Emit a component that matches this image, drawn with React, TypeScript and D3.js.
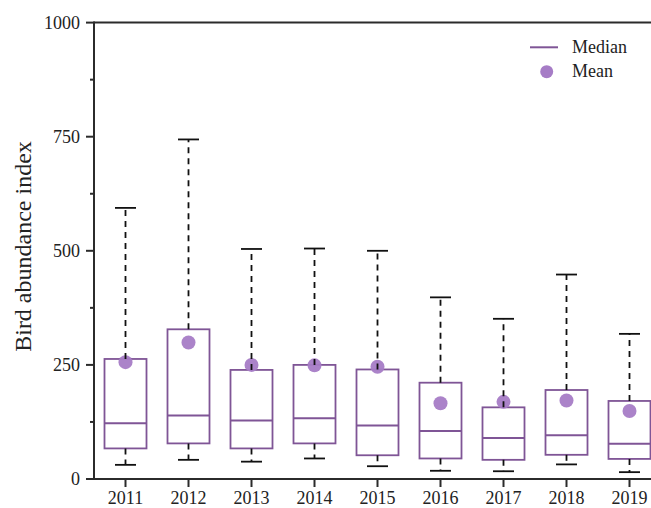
import React from "react";
import * as d3 from "d3";

const years = ["2011", "2012", "2013", "2014", "2015", "2016", "2017", "2018", "2019"];
const lowerCap = [31, 42, 38, 45, 28, 18, 17, 32, 15];
const q1 = [67, 78, 67, 78, 52, 45, 42, 53, 44];
const median = [122, 139, 128, 133, 117, 105, 90, 96, 77];
const q3 = [263, 328, 239, 250, 240, 211, 157, 195, 171];
const upperCap = [594, 744, 504, 505, 500, 398, 351, 448, 318];
const mean = [256, 299, 250, 249, 246, 166, 169, 172, 149];
const yTicks = [0, 250, 500, 750, 1000];
const yMinorTicks = [125, 375, 625, 875];

const W = 651;
const H = 508;
const left = 94;
const top = 22.6;
const bottom = 479;
const step = 63;

export default function App() {
  const y = d3.scaleLinear().domain([0, 1000]).range([bottom, top]);
  const x = d3
    .scaleBand()
    .domain(years)
    .range([left, left + step * years.length])
    .paddingInner(0)
    .paddingOuter(0);
  const cx = (yr: string) => (x(yr) as number) + x.bandwidth() / 2;
  const boxW = 42;
  const capW = 21;
  const purple = "#7f5596";
  const meanFill = "#a67cc6";
  const axisColor = "#2b2b2b";
  const font = "'Liberation Serif', 'Times New Roman', serif";

  return (
    <svg width={W} height={H} style={{ position: "absolute", left: 0, top: 0, background: "#fff" }}>
      <rect x={0} y={0} width={W} height={H} fill="#fff" />
      {/* boxes */}
      {years.map((yr, i) => (
        <g key={"b" + yr}>
          <rect
            x={cx(yr) - boxW / 2}
            y={y(q3[i])}
            width={boxW}
            height={y(q1[i]) - y(q3[i])}
            fill="none"
            stroke={purple}
            strokeWidth={1.8}
          />
          <line
            x1={cx(yr) - boxW / 2}
            x2={cx(yr) + boxW / 2}
            y1={y(median[i])}
            y2={y(median[i])}
            stroke={purple}
            strokeWidth={2}
          />
          <circle cx={cx(yr)} cy={y(mean[i])} r={7} fill={meanFill} opacity={0.95} />
        </g>
      ))}
      {/* whiskers */}
      {years.map((yr, i) => (
        <g key={"w" + yr} stroke="#111" strokeWidth={1.8}>
          <line x1={cx(yr)} x2={cx(yr)} y1={y(q3[i])} y2={y(upperCap[i])} strokeDasharray="6,5" />
          <line x1={cx(yr)} x2={cx(yr)} y1={y(q1[i])} y2={y(lowerCap[i])} strokeDasharray="6,5" />
          <line x1={cx(yr) - capW / 2} x2={cx(yr) + capW / 2} y1={y(upperCap[i])} y2={y(upperCap[i])} />
          <line x1={cx(yr) - capW / 2} x2={cx(yr) + capW / 2} y1={y(lowerCap[i])} y2={y(lowerCap[i])} />
        </g>
      ))}
      {/* axes */}
      <line x1={left} x2={W + 20} y1={bottom} y2={bottom} stroke={axisColor} strokeWidth={2} />
      <line x1={left} x2={W + 20} y1={top} y2={top} stroke={axisColor} strokeWidth={2} />
      <line x1={left} x2={left} y1={top - 1} y2={bottom + 1} stroke={axisColor} strokeWidth={2} />
      {yTicks.map((t) => (
        <g key={"yt" + t}>
          <line x1={left - 8} x2={left} y1={y(t)} y2={y(t)} stroke={axisColor} strokeWidth={2} />
          <text
            x={left - 14}
            y={y(t)}
            dy="0.35em"
            textAnchor="end"
            fontFamily={font}
            fontSize={18}
            fill="#222"
          >
            {t}
          </text>
        </g>
      ))}
      {yMinorTicks.map((t) => (
        <line key={"ym" + t} x1={left - 4} x2={left} y1={y(t)} y2={y(t)} stroke={axisColor} strokeWidth={2} />
      ))}
      {years.map((yr) => (
        <g key={"xt" + yr}>
          <line x1={cx(yr)} x2={cx(yr)} y1={bottom} y2={bottom + 8} stroke={axisColor} strokeWidth={2} />
          <text
            x={cx(yr)}
            y={504}
            textAnchor="middle"
            fontFamily={font}
            fontSize={18}
            fill="#222"
          >
            {yr}
          </text>
        </g>
      ))}
      <text
        transform={`translate(31, 246.5) rotate(-90)`}
        textAnchor="middle"
        fontFamily={font}
        fontSize={24}
        fill="#222"
      >
        Bird abundance index
      </text>
      {/* legend */}
      <line x1={530} x2={558} y1={47.3} y2={47.3} stroke={purple} strokeWidth={2} />
      <text x={572} y={53} fontFamily={font} fontSize={18} fill="#222">
        Median
      </text>
      <circle cx={546.7} cy={71.7} r={6.5} fill={meanFill} />
      <text x={572} y={77} fontFamily={font} fontSize={18} fill="#222">
        Mean
      </text>
    </svg>
  );
}
